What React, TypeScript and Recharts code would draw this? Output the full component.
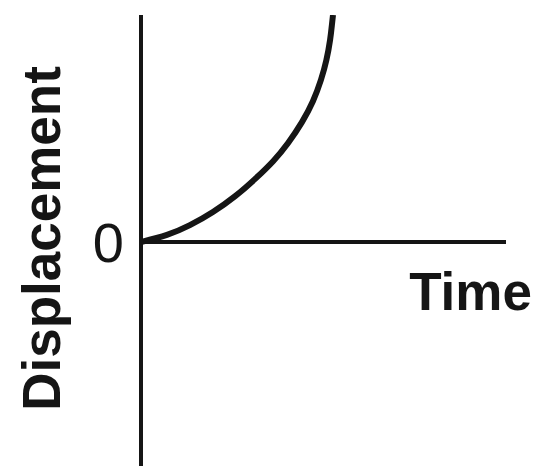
import React from 'react';
import { LineChart, Line, XAxis, YAxis, ReferenceLine, Label } from 'recharts';

// time and displacement
const times = [0, 0.71, 1.34, 1.97, 2.58, 3.12, 3.62, 4.03, 4.41, 4.71, 4.93, 5.08, 5.18, 5.23, 5.26];
const displacements = [0, 0.31, 0.74, 1.32, 2.02, 2.77, 3.56, 4.36, 5.28, 6.2, 7.14, 8.02, 8.9, 9.56, 10];

const timeDomain = [0, 10];
const displacementDomain = [-9.87, 10];

const INK = '#151515';
const FONT = '"Liberation Sans", Arial, Helvetica, sans-serif';

export default function App() {
  const data = times.map((t, i) => ({ t, d: displacements[i] }));

  return (
    <div style={{ width: 540, height: 466, background: '#fff' }}>
      <style>{'body{margin:0}'}</style>
      <LineChart
        width={540}
        height={466}
        data={data}
        margin={{ top: 15, right: 34, bottom: 0, left: 141 }}
      >
        <XAxis hide type="number" dataKey="t" domain={timeDomain} allowDataOverflow />
        <YAxis hide type="number" domain={displacementDomain} allowDataOverflow />
        <ReferenceLine x={0} stroke={INK} strokeWidth={4}>
          <Label
            value="Displacement"
            position="center"
            angle={-90}
            dx={-100}
            dy={-2}
            fill={INK}
            style={{ fontFamily: FONT, fontSize: 53, fontWeight: 700 }}
          />
        </ReferenceLine>
        <ReferenceLine y={0} stroke={INK} strokeWidth={4}>
          <Label
            value="0"
            position="left"
            offset={17}
            fill={INK}
            style={{ fontFamily: FONT, fontSize: 56, fontWeight: 400 }}
          />
          <Label
            value="Time"
            position="bottom"
            offset={30}
            dx={147}
            fill={INK}
            style={{ fontFamily: FONT, fontSize: 53, fontWeight: 700 }}
          />
        </ReferenceLine>
        <Line
          type="natural"
          dataKey="d"
          stroke={INK}
          strokeWidth={6}
          dot={false}
          activeDot={false}
          isAnimationActive={false}
        />
      </LineChart>
    </div>
  );
}
